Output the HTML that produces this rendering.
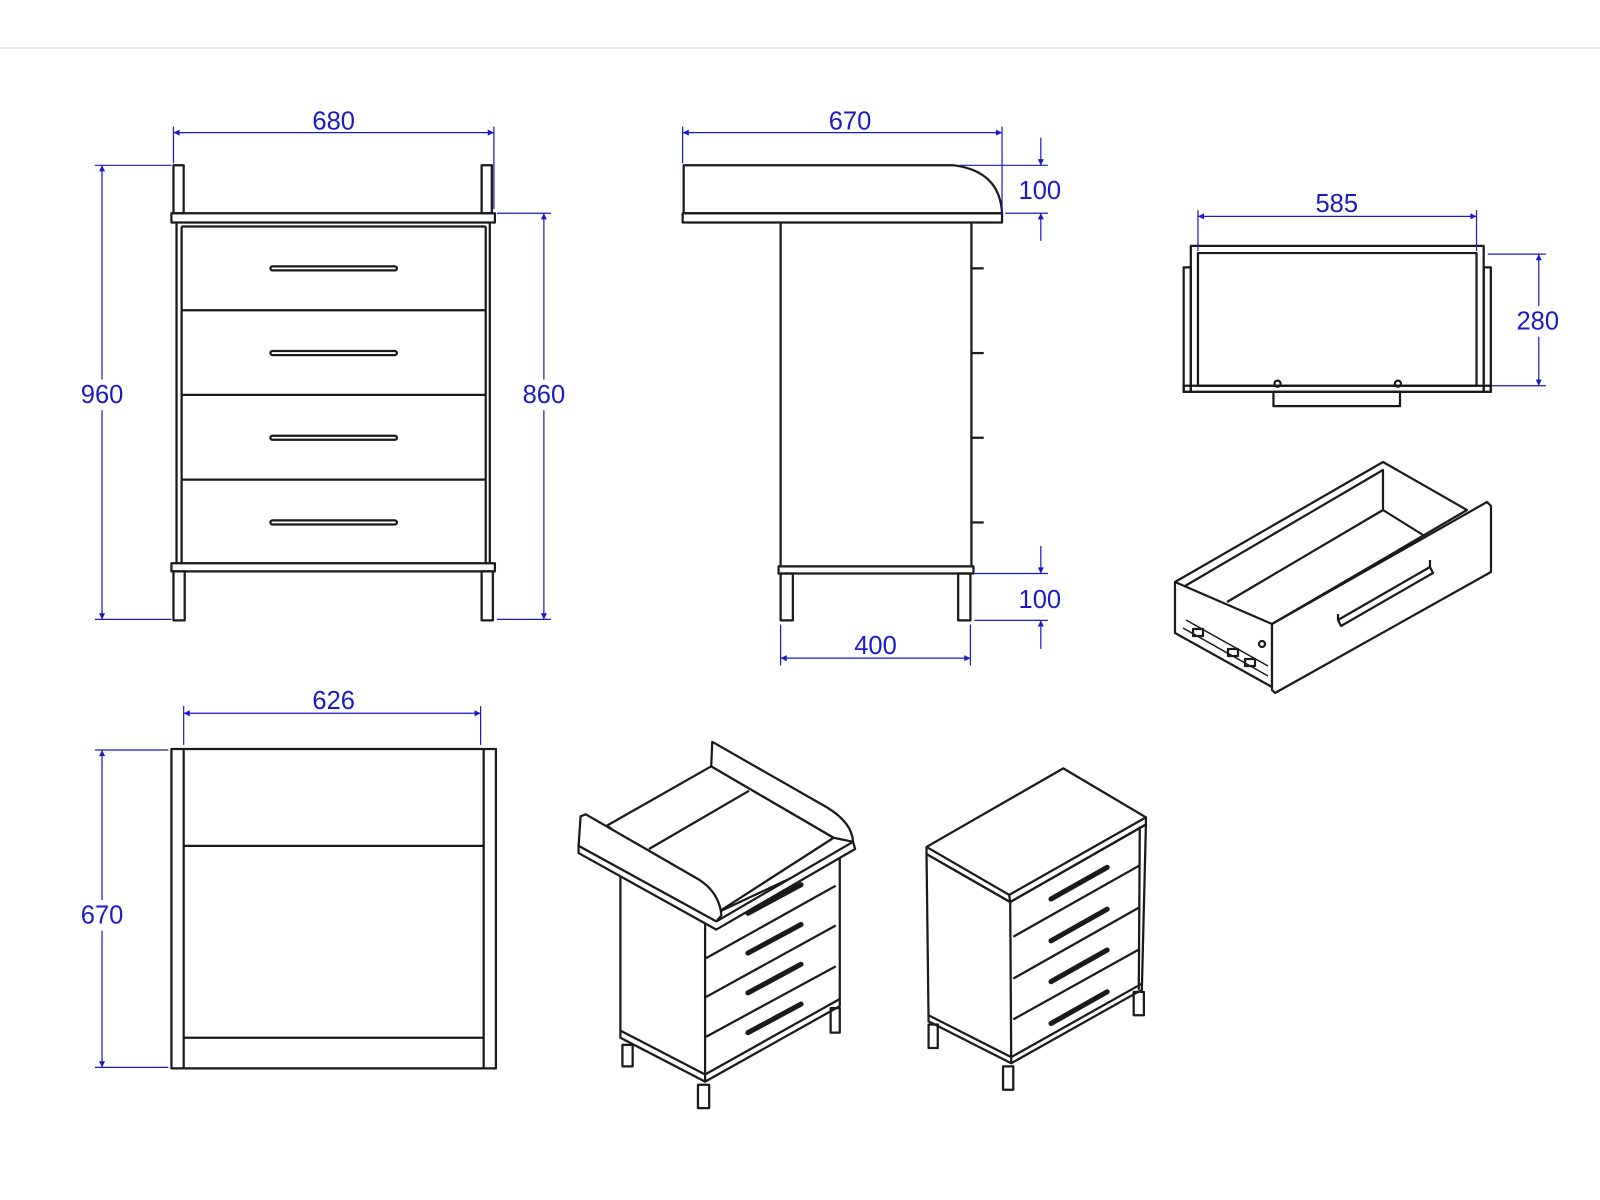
<!DOCTYPE html>
<html><head><meta charset="utf-8"><style>
html,body{margin:0;padding:0;background:#fff;width:1600px;height:1200px;overflow:hidden}
svg{display:block}
text{font-family:"Liberation Sans",sans-serif;font-size:25px;fill:#1a1ac8;text-anchor:middle}
.d{stroke:#1a1ac8;stroke-width:1.2;fill:none}
.k{stroke:#1a1a1a;stroke-width:2.2;fill:none;stroke-linejoin:round}
.kf{stroke:#1a1a1a;stroke-width:2.2;fill:#fff;stroke-linejoin:round}
</style></head><body>
<svg width="1600" height="1200" viewBox="0 0 1568 1176" xmlns="http://www.w3.org/2000/svg">
<defs>
<marker id="a" viewBox="0 0 10 10" refX="10" refY="5" markerWidth="10" markerHeight="6" orient="auto-start-reverse" markerUnits="userSpaceOnUse"><path d="M0,0 L10,5 L0,10 z" fill="#1a1ac8"/></marker>
</defs>
<line x1="0" y1="47" x2="1568" y2="47" stroke="#ddd" stroke-width="1.2"/>

<!-- FRONT VIEW -->
<g class="k">
<rect x="170" y="162" width="10" height="47"/><rect x="472" y="162" width="10" height="47"/>
<rect x="168" y="209" width="317" height="9"/>
<line x1="173" y1="218" x2="173" y2="552"/><line x1="480" y1="218" x2="480" y2="552"/>
<line x1="178" y1="222" x2="178" y2="552"/><line x1="476" y1="222" x2="476" y2="552"/>
<line x1="178" y1="222" x2="476" y2="222"/>
<line x1="178" y1="304" x2="476" y2="304"/><line x1="178" y1="387" x2="476" y2="387"/><line x1="178" y1="470" x2="476" y2="470"/>
<rect x="168" y="552" width="317" height="8"/>
<rect x="170" y="560" width="11" height="48"/><rect x="472" y="560" width="11" height="48"/>
<rect x="265" y="261" width="124" height="4" rx="2"/><rect x="265" y="344" width="124" height="4" rx="2"/>
<rect x="265" y="427" width="124" height="4" rx="2"/><rect x="265" y="510" width="124" height="4" rx="2"/>
</g>
<g class="d">
<line x1="170" y1="124" x2="170" y2="160"/><line x1="484" y1="124" x2="484" y2="205"/>
<line x1="170" y1="130" x2="484" y2="130" marker-start="url(#a)" marker-end="url(#a)"/>
<line x1="93" y1="162" x2="168" y2="162"/><line x1="93" y1="607" x2="168" y2="607"/>
<line x1="100" y1="162" x2="100" y2="607" marker-start="url(#a)" marker-end="url(#a)"/>
<line x1="487" y1="209" x2="540" y2="209"/><line x1="487" y1="607" x2="540" y2="607"/>
<line x1="533" y1="209" x2="533" y2="607" marker-start="url(#a)" marker-end="url(#a)"/>
</g>
<rect x="75" y="372" width="50" height="30" fill="#fff"/><rect x="508" y="372" width="50" height="30" fill="#fff"/>
<text x="327" y="127">680</text><text x="100" y="395">960</text><text x="533" y="395">860</text>

<!-- SIDE VIEW -->
<g class="k">
<path d="M670,209 L670,162 L935,162 Q980,168 982,209 Z"/>
<rect x="669" y="209" width="313" height="9"/>
<line x1="765" y1="218" x2="765" y2="555"/><line x1="952" y1="218" x2="952" y2="555"/>
<rect x="763" y="555" width="191" height="7"/>
<rect x="765" y="562" width="12" height="46"/><rect x="939" y="562" width="12" height="46"/>
<line x1="952" y1="263" x2="964" y2="263"/><line x1="952" y1="346" x2="964" y2="346"/>
<line x1="952" y1="429" x2="964" y2="429"/><line x1="952" y1="512" x2="964" y2="512"/>
</g>
<g class="d">
<line x1="669" y1="124" x2="669" y2="160"/><line x1="982" y1="124" x2="982" y2="209"/>
<line x1="669" y1="130" x2="982" y2="130" marker-start="url(#a)" marker-end="url(#a)"/>
<line x1="940" y1="162" x2="1027" y2="162"/><line x1="985" y1="209" x2="1027" y2="209"/>
<line x1="1020" y1="135" x2="1020" y2="162" marker-end="url(#a)"/><line x1="1020" y1="236" x2="1020" y2="209" marker-end="url(#a)"/>
<line x1="955" y1="562" x2="1027" y2="562"/><line x1="955" y1="608" x2="1027" y2="608"/>
<line x1="1020" y1="535" x2="1020" y2="562" marker-end="url(#a)"/><line x1="1020" y1="636" x2="1020" y2="608" marker-end="url(#a)"/>
<line x1="765" y1="612" x2="765" y2="652"/><line x1="951" y1="612" x2="951" y2="652"/>
<line x1="765" y1="645" x2="951" y2="645" marker-start="url(#a)" marker-end="url(#a)"/>
</g>
<text x="833" y="127">670</text><text x="1019" y="195">100</text><text x="1019" y="596">100</text><text x="858" y="641">400</text>

<!-- DRAWER TOP VIEW -->
<g class="k">
<rect x="1167" y="241" width="287" height="143"/>
<rect x="1174" y="248" width="273" height="130"/>
<rect x="1160" y="262" width="7" height="122"/><rect x="1454" y="262" width="7" height="122"/>
<rect x="1160" y="378" width="301" height="6"/>
<rect x="1248" y="384" width="124" height="14"/>
<circle cx="1252" cy="376" r="3"/><circle cx="1370" cy="376" r="3"/>
</g>
<g class="d">
<line x1="1174" y1="206" x2="1174" y2="246"/><line x1="1447" y1="206" x2="1447" y2="246"/>
<line x1="1174" y1="212" x2="1447" y2="212" marker-start="url(#a)" marker-end="url(#a)"/>
<line x1="1458" y1="249" x2="1515" y2="249"/><line x1="1462" y1="378" x2="1515" y2="378"/>
<line x1="1508" y1="249" x2="1508" y2="378" marker-start="url(#a)" marker-end="url(#a)"/>
</g>
<rect x="1482" y="300" width="52" height="30" fill="#fff"/>
<text x="1310" y="208">585</text><text x="1507" y="323">280</text>

<!-- BOTTOM TOP VIEW -->
<g class="k">
<rect x="168" y="734" width="318" height="313"/>
<line x1="180" y1="734" x2="180" y2="1047"/><line x1="474" y1="734" x2="474" y2="1047"/>
<line x1="180" y1="829" x2="474" y2="829"/><line x1="180" y1="1017" x2="474" y2="1017"/>
</g>
<g class="d">
<line x1="180" y1="692" x2="180" y2="730"/><line x1="471" y1="692" x2="471" y2="730"/>
<line x1="180" y1="699" x2="471" y2="699" marker-start="url(#a)" marker-end="url(#a)"/>
<line x1="93" y1="735" x2="165" y2="735"/><line x1="93" y1="1046" x2="165" y2="1046"/>
<line x1="100" y1="735" x2="100" y2="1046" marker-start="url(#a)" marker-end="url(#a)"/>
</g>
<rect x="75" y="882" width="50" height="30" fill="#fff"/>
<text x="327" y="695">626</text><text x="100" y="905">670</text>

<!-- iso drawer (real coords) -->
<g transform="scale(0.98)">
<g class="k">
<path class="kf" d="M1175,582 L1383,462 L1467,510 L1272,624 L1272,687 L1175,633 Z"/>
<path d="M1185,586 L1383,470 L1383,510 L1227,602"/>
<path d="M1383,510 L1423,535"/>
<path d="M1175,582 L1272,624"/>
<path class="kf" d="M1272,624 L1487,502 L1491,506 L1491,572 L1275,693 L1272,690 Z"/>
<path d="M1338,620 L1430,567 L1433,573 L1341,626 Z"/>
<path d="M1430,567 L1430,560"/><path d="M1338,620 L1338,614"/>
<path d="M1186,620 L1268,666 M1183,628 L1268,676" stroke-width="1.5"/>
<rect x="1193" y="629" width="10" height="7"/><rect x="1228" y="649" width="10" height="7"/><rect x="1245" y="659" width="10" height="7"/>
<circle cx="1262" cy="644" r="3"/>
</g>
</g>

<!-- changer iso (displayed coords) -->
<g class="k">
<path class="kf" d="M608,851 L691,900 L823,838 L823,986 L691,1060 L608,1017 Z"/>
<line x1="691" y1="900" x2="691" y2="1060"/>
<line x1="608" y1="1010" x2="691" y2="1053"/><line x1="691" y1="1053" x2="823" y2="979"/>
<line x1="692" y1="939" x2="819" y2="868"/><line x1="692" y1="977" x2="819" y2="907"/><line x1="692" y1="1016" x2="819" y2="947"/>
<rect x="610" y="1024" width="10" height="21"/><rect x="684" y="1063" width="11" height="23"/><rect x="814" y="988" width="9" height="24"/>
<path class="kf" d="M595,809 L697,751 L817,821 L702,895 Z"/>
<path d="M734,775 L636,832"/>
<path class="kf" d="M697,751 L698,727 L810,791 Q835,806 836,825 L817,821 Z"/>
<path class="kf" d="M569,800 L574,798 L685,862 Q705,875 707,897 L702,903 L567,829 Z"/>
<path class="kf" d="M567,829 L567,836 L702,911 L838,832 L836,825 L702,903 Z"/>
<g stroke-width="5" stroke-linecap="round">
<line x1="733" y1="895" x2="785" y2="867"/><line x1="733" y1="934" x2="785" y2="906"/><line x1="733" y1="973" x2="785" y2="945"/><line x1="733" y1="1012" x2="785" y2="984"/>
</g>
</g>
<!-- dresser iso -->
<g class="k">
<path class="kf" d="M908,837 L990,884 L1123,808 L1119,970 L991,1042 L910,1001 Z"/>
<line x1="990" y1="884" x2="991" y2="1042"/>
<line x1="1117" y1="810" x2="1116" y2="970"/>
<line x1="910" y1="995" x2="991" y2="1036"/><line x1="991" y1="1036" x2="1119" y2="964"/>
<line x1="993" y1="918" x2="1117" y2="848"/><line x1="993" y1="959" x2="1117" y2="889"/><line x1="993" y1="999" x2="1117" y2="930"/>
<path class="kf" d="M908,830 L1042,753 L1123,801 L989,877 Z"/>
<path d="M908,830 L908,837 L990,884 L1123,808 L1123,801 M989,877 L990,884"/>
<rect x="910" y="1004" width="9" height="23"/><rect x="983" y="1045" width="10" height="23"/><rect x="1111" y="972" width="10" height="23"/>
<g stroke-width="5" stroke-linecap="round">
<line x1="1030" y1="881" x2="1085" y2="850"/><line x1="1030" y1="922" x2="1085" y2="891"/><line x1="1030" y1="962" x2="1085" y2="931"/><line x1="1030" y1="1003" x2="1085" y2="972"/>
</g>
</g>
</svg>
</body></html>
